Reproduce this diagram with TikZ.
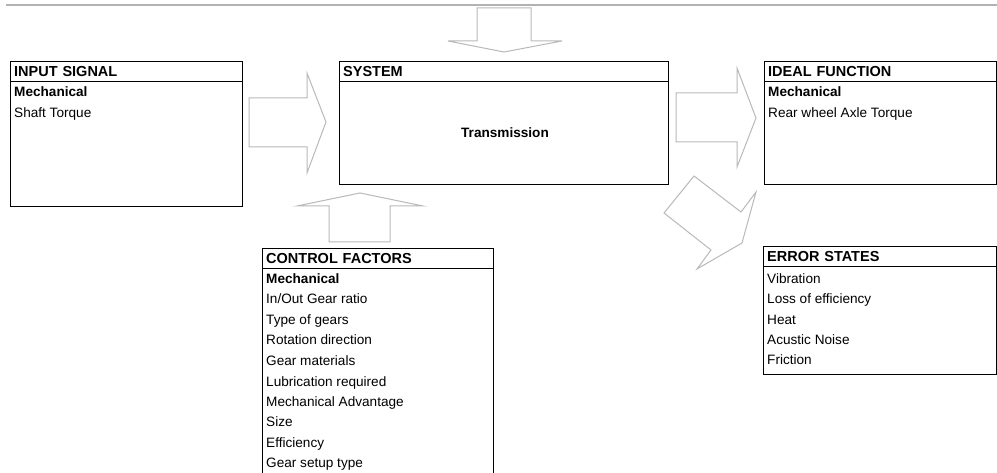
\documentclass[tikz,border=0pt]{standalone}
\usepackage{fontspec}
\setmainfont{Liberation Sans}
\begin{document}
\begin{tikzpicture}[x=1pt, y=-1pt,
    box/.style={rectangle, draw=black, line width=1.4pt, anchor=north west, inner sep=0pt},
    head/.style={rectangle, draw=black, line width=1.4pt, anchor=north west, minimum height=20pt, inner xsep=3.5pt, inner ysep=0pt, text height=10.4pt, text depth=0pt, align=left, font=\fontsize{14.5}{16}\selectfont\bfseries},
    item/.style={anchor=west, inner sep=0pt, text height=9.8pt, text depth=0pt, font=\fontsize{13.6}{16}\selectfont},
    blockarrow/.style={draw=gray!55, line width=1pt, line join=miter, fill=white}]
	\clip (0,0) rectangle (997,473);

	% Top rule
	\draw[gray!60, line width=1.4pt] (6,5) -- (997,5);

	% Input signal box
	\node[box, minimum width=232pt, minimum height=145pt] (input) at (10,61) {};
	\node[head, text width=225pt] (inputhead) at (input.north west) {INPUT SIGNAL};
	\node[item, font=\fontsize{13.6}{16}\selectfont\bfseries] (inputmech) at (14,92) {Mechanical};
	\node[item] (inputtorque) at (14,113) {Shaft Torque};

	% System box
	\node[box, minimum width=329pt, minimum height=123pt] (system) at (339,61) {};
	\node[head, text width=322pt] (systemhead) at (system.north west) {SYSTEM};
	\node[item, anchor=center, font=\fontsize{13.6}{16}\selectfont\bfseries] (transmission) at (505,133) {Transmission};

	% Ideal function box
	\node[box, minimum width=232pt, minimum height=123pt] (ideal) at (764,61) {};
	\node[head, text width=225pt] (idealhead) at (ideal.north west) {IDEAL FUNCTION};
	\node[item, font=\fontsize{13.6}{16}\selectfont\bfseries] (idealmech) at (768,92) {Mechanical};
	\node[item] (idealtorque) at (768,113) {Rear wheel Axle Torque};

	% Control factors box
	\node[box, minimum width=231pt, minimum height=240pt] (control) at (262,248) {};
	\node[head, text width=224pt] (controlhead) at (control.north west) {CONTROL FACTORS};
	\node[item, font=\fontsize{13.6}{16}\selectfont\bfseries] (controlmech) at (266,279) {Mechanical};
	\node[item] (ratio) at (266,299) {In/Out Gear ratio};
	\node[item] (gears) at (266,320) {Type of gears};
	\node[item] (rotation) at (266,340) {Rotation direction};
	\node[item] (materials) at (266,361) {Gear materials};
	\node[item] (lubrication) at (266,382) {Lubrication required};
	\node[item] (advantage) at (266,402) {Mechanical Advantage};
	\node[item] (size) at (266,422) {Size};
	\node[item] (efficiency) at (266,443) {Efficiency};
	\node[item] (setup) at (266,463) {Gear setup type};

	% Error states box
	\node[box, minimum width=233pt, minimum height=128pt] (error) at (763,246) {};
	\node[head, text width=226pt] (errorhead) at (error.north west) {ERROR STATES};
	\node[item] (vibration) at (767,279) {Vibration};
	\node[item] (loss) at (767,299) {Loss of efficiency};
	\node[item] (heat) at (767,320) {Heat};
	\node[item] (noise) at (767,340) {Acustic Noise};
	\node[item] (friction) at (767,360) {Friction};

	% Block arrows
	\draw[blockarrow] (477,8) -- (531,8) -- (531,41) -- (562,41) -- (504,52) -- (448,41) -- (477,41) -- cycle;
	\draw[blockarrow] (249,98) -- (307,98) -- (307,73) -- (326,122) -- (307,173) -- (307,147) -- (249,147) -- cycle;
	\draw[blockarrow] (676,93) -- (737,93) -- (737,68) -- (756,118) -- (737,167) -- (737,142) -- (676,142) -- cycle;
	\draw[blockarrow] (329,242) -- (329,206) -- (297,206) -- (360,193) -- (423,206) -- (390,206) -- (390,242) -- cycle;
	\draw[blockarrow] (694,176) -- (741,212) -- (756,192) -- (742,243) -- (697,269) -- (711,250) -- (664,213) -- cycle;
\end{tikzpicture}
\end{document}
